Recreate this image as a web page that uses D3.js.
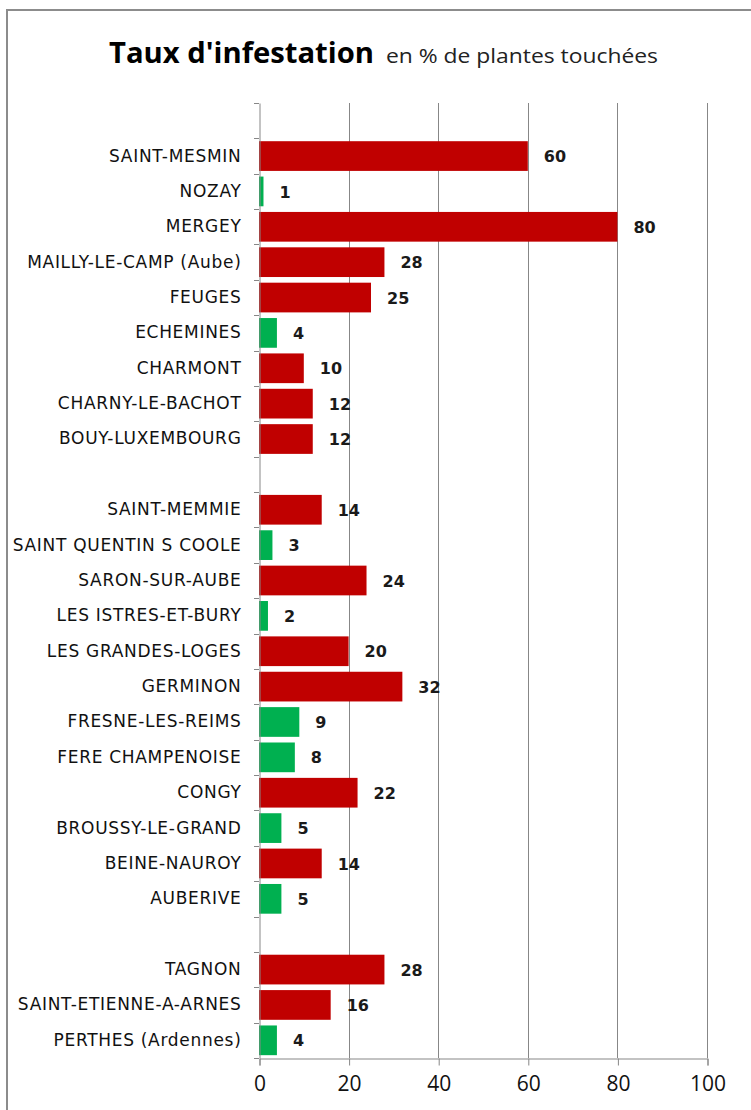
<!DOCTYPE html>
<html>
<head>
<meta charset="utf-8">
<script src="https://cdn.jsdelivr.net/npm/d3@7"></script>
<style>
  body { margin: 0; background: #fff; }
  svg { display: block; }
</style>
</head>
<body>
<div id="chart"></div>
<script>
  // Data (empty names = blank spacer rows between the groups)
  const communes = [
    "",
    "SAINT-MESMIN", "NOZAY", "MERGEY ", "MAILLY-LE-CAMP (Aube)", "FEUGES",
    "ECHEMINES", "CHARMONT", "CHARNY-LE-BACHOT", "BOUY-LUXEMBOURG",
    "",
    "SAINT-MEMMIE", "SAINT QUENTIN S COOLE", "SARON-SUR-AUBE", "LES ISTRES-ET-BURY",
    "LES GRANDES-LOGES", "GERMINON", "FRESNE-LES-REIMS", "FERE CHAMPENOISE",
    "CONGY", "BROUSSY-LE-GRAND", "BEINE-NAUROY", "AUBERIVE",
    "",
    "TAGNON", "SAINT-ETIENNE-A-ARNES", "PERTHES (Ardennes)"
  ]
  const tauxInfestation = [
    null,
    60, 1, 80, 28, 25, 4, 10, 12, 12,
    null,
    14, 3, 24, 2, 20, 32, 9, 8, 22, 5, 14, 5,
    null,
    28, 16, 4
  ]
  const xTicks = [0, 20, 40, 60, 80, 100]
  const seuilFaible = 10   // under this value the bar is green

  const rows = communes.map((name, i) => ({ i, name, value: tauxInfestation[i] }))

  //Set Dimensions
  const dimensions = {
    width: 751,
    height: 1110,
    plotLeft: 259,
    plotRight: 707,
    plotTop: 103,
    plotBottom: 1058,
  }

  const svg = d3.select("#chart")
    .append("svg")
      .attr("width", dimensions.width)
      .attr("height", dimensions.height)

  // outer frame (runs off the right and bottom edges)
  svg.append("path")
    .attr("d", `M7,${dimensions.height + 5} V10 H${dimensions.width + 5}`)
    .attr("fill", "none")
    .attr("stroke", "#8c8c8c")
    .attr("stroke-width", 2)

  //Create Scales
  const xScale = d3.scaleLinear()
    .domain([0, 100])
    .range([dimensions.plotLeft, dimensions.plotRight])

  const yScale = d3.scaleBand()
    .domain(rows.map(d => d.i))
    .range([dimensions.plotTop, dimensions.plotBottom])
    .paddingInner(0.16)
    .paddingOuter(0.08)

  const gridColor = "#878787"

  // vertical gridlines
  svg.append("g")
    .selectAll("line")
    .data(xTicks.filter(t => t > 0))
    .join("line")
      .attr("x1", d => Math.round(xScale(d)) + 0.5)
      .attr("x2", d => Math.round(xScale(d)) + 0.5)
      .attr("y1", dimensions.plotTop)
      .attr("y2", dimensions.plotBottom)
      .attr("stroke", gridColor)
      .attr("stroke-width", 1)

  //Draw Data
  svg.append("g")
    .selectAll("rect")
    .data(rows.filter(d => d.value != null))
    .join("rect")
      .attr("x", xScale(0))
      .attr("y", d => yScale(d.i))
      .attr("width", d => xScale(d.value) - xScale(0))
      .attr("height", yScale.bandwidth())
      .attr("fill", d => d.value < seuilFaible ? "#00b050" : "#c00000")

  // value labels
  svg.append("g")
    .selectAll("text")
    .data(rows.filter(d => d.value != null))
    .join("text")
      .attr("x", d => xScale(d.value) + 16)
      .attr("y", d => yScale(d.i) + yScale.bandwidth() / 2)
      .attr("dy", "0.38em")
      .attr("font-family", "DejaVu Sans, sans-serif")
      .attr("font-weight", "bold")
      .attr("font-size", 16)
      .attr("fill", "#1a1a1a")
      .text(d => d.value)

  //Add Axes
  const yAxis = d3.axisLeft(yScale)
    .tickSize(0)
    .tickPadding(18)
    .tickFormat(i => communes[i])
  const yAxisG = svg.append("g")
    .attr("transform", `translate(${dimensions.plotLeft + 0.5},0)`)
    .call(yAxis)
  yAxisG.select(".domain").attr("stroke", gridColor)
  yAxisG.selectAll("text")
    .attr("font-family", "DejaVu Sans, sans-serif")
    .attr("font-size", 17)
    .attr("letter-spacing", 0.7)
    .attr("fill", "#111")

  // category boundary tick marks
  const step = yScale.step()
  svg.append("g")
    .selectAll("line")
    .data(d3.range(communes.length + 1))
    .join("line")
      .attr("x1", dimensions.plotLeft - 5)
      .attr("x2", dimensions.plotLeft)
      .attr("y1", k => Math.round(dimensions.plotTop + k * step) + 0.5)
      .attr("y2", k => Math.round(dimensions.plotTop + k * step) + 0.5)
      .attr("stroke", gridColor)

  const xAxis = d3.axisBottom(xScale)
    .tickValues(xTicks)
    .tickSize(7)
    .tickPadding(11)
  const xAxisG = svg.append("g")
    .attr("transform", `translate(0.5,${dimensions.plotBottom + 0.5})`)
    .call(xAxis)
  xAxisG.select(".domain").attr("stroke", gridColor)
  xAxisG.selectAll(".tick line").attr("stroke", gridColor)
  xAxisG.selectAll("text")
    .attr("font-family", "Open Sans, sans-serif")
    .attr("font-size", 21)
    .attr("fill", "#111")

  // Title
  svg.append("text")
    .attr("x", 109)
    .attr("y", 63)
    .attr("font-family", "Open Sans, sans-serif")
    .attr("font-weight", "bold")
    .attr("font-size", 28)
    .attr("textLength", 265)
    .attr("lengthAdjust", "spacingAndGlyphs")
    .attr("fill", "#000")
    .text("Taux d'infestation")

  svg.append("text")
    .attr("x", 386)
    .attr("y", 63)
    .attr("font-family", "Open Sans, sans-serif")
    .attr("font-size", 20)
    .attr("textLength", 272)
    .attr("lengthAdjust", "spacingAndGlyphs")
    .attr("fill", "#222")
    .text("en % de plantes touchées")
</script>
</body>
</html>
